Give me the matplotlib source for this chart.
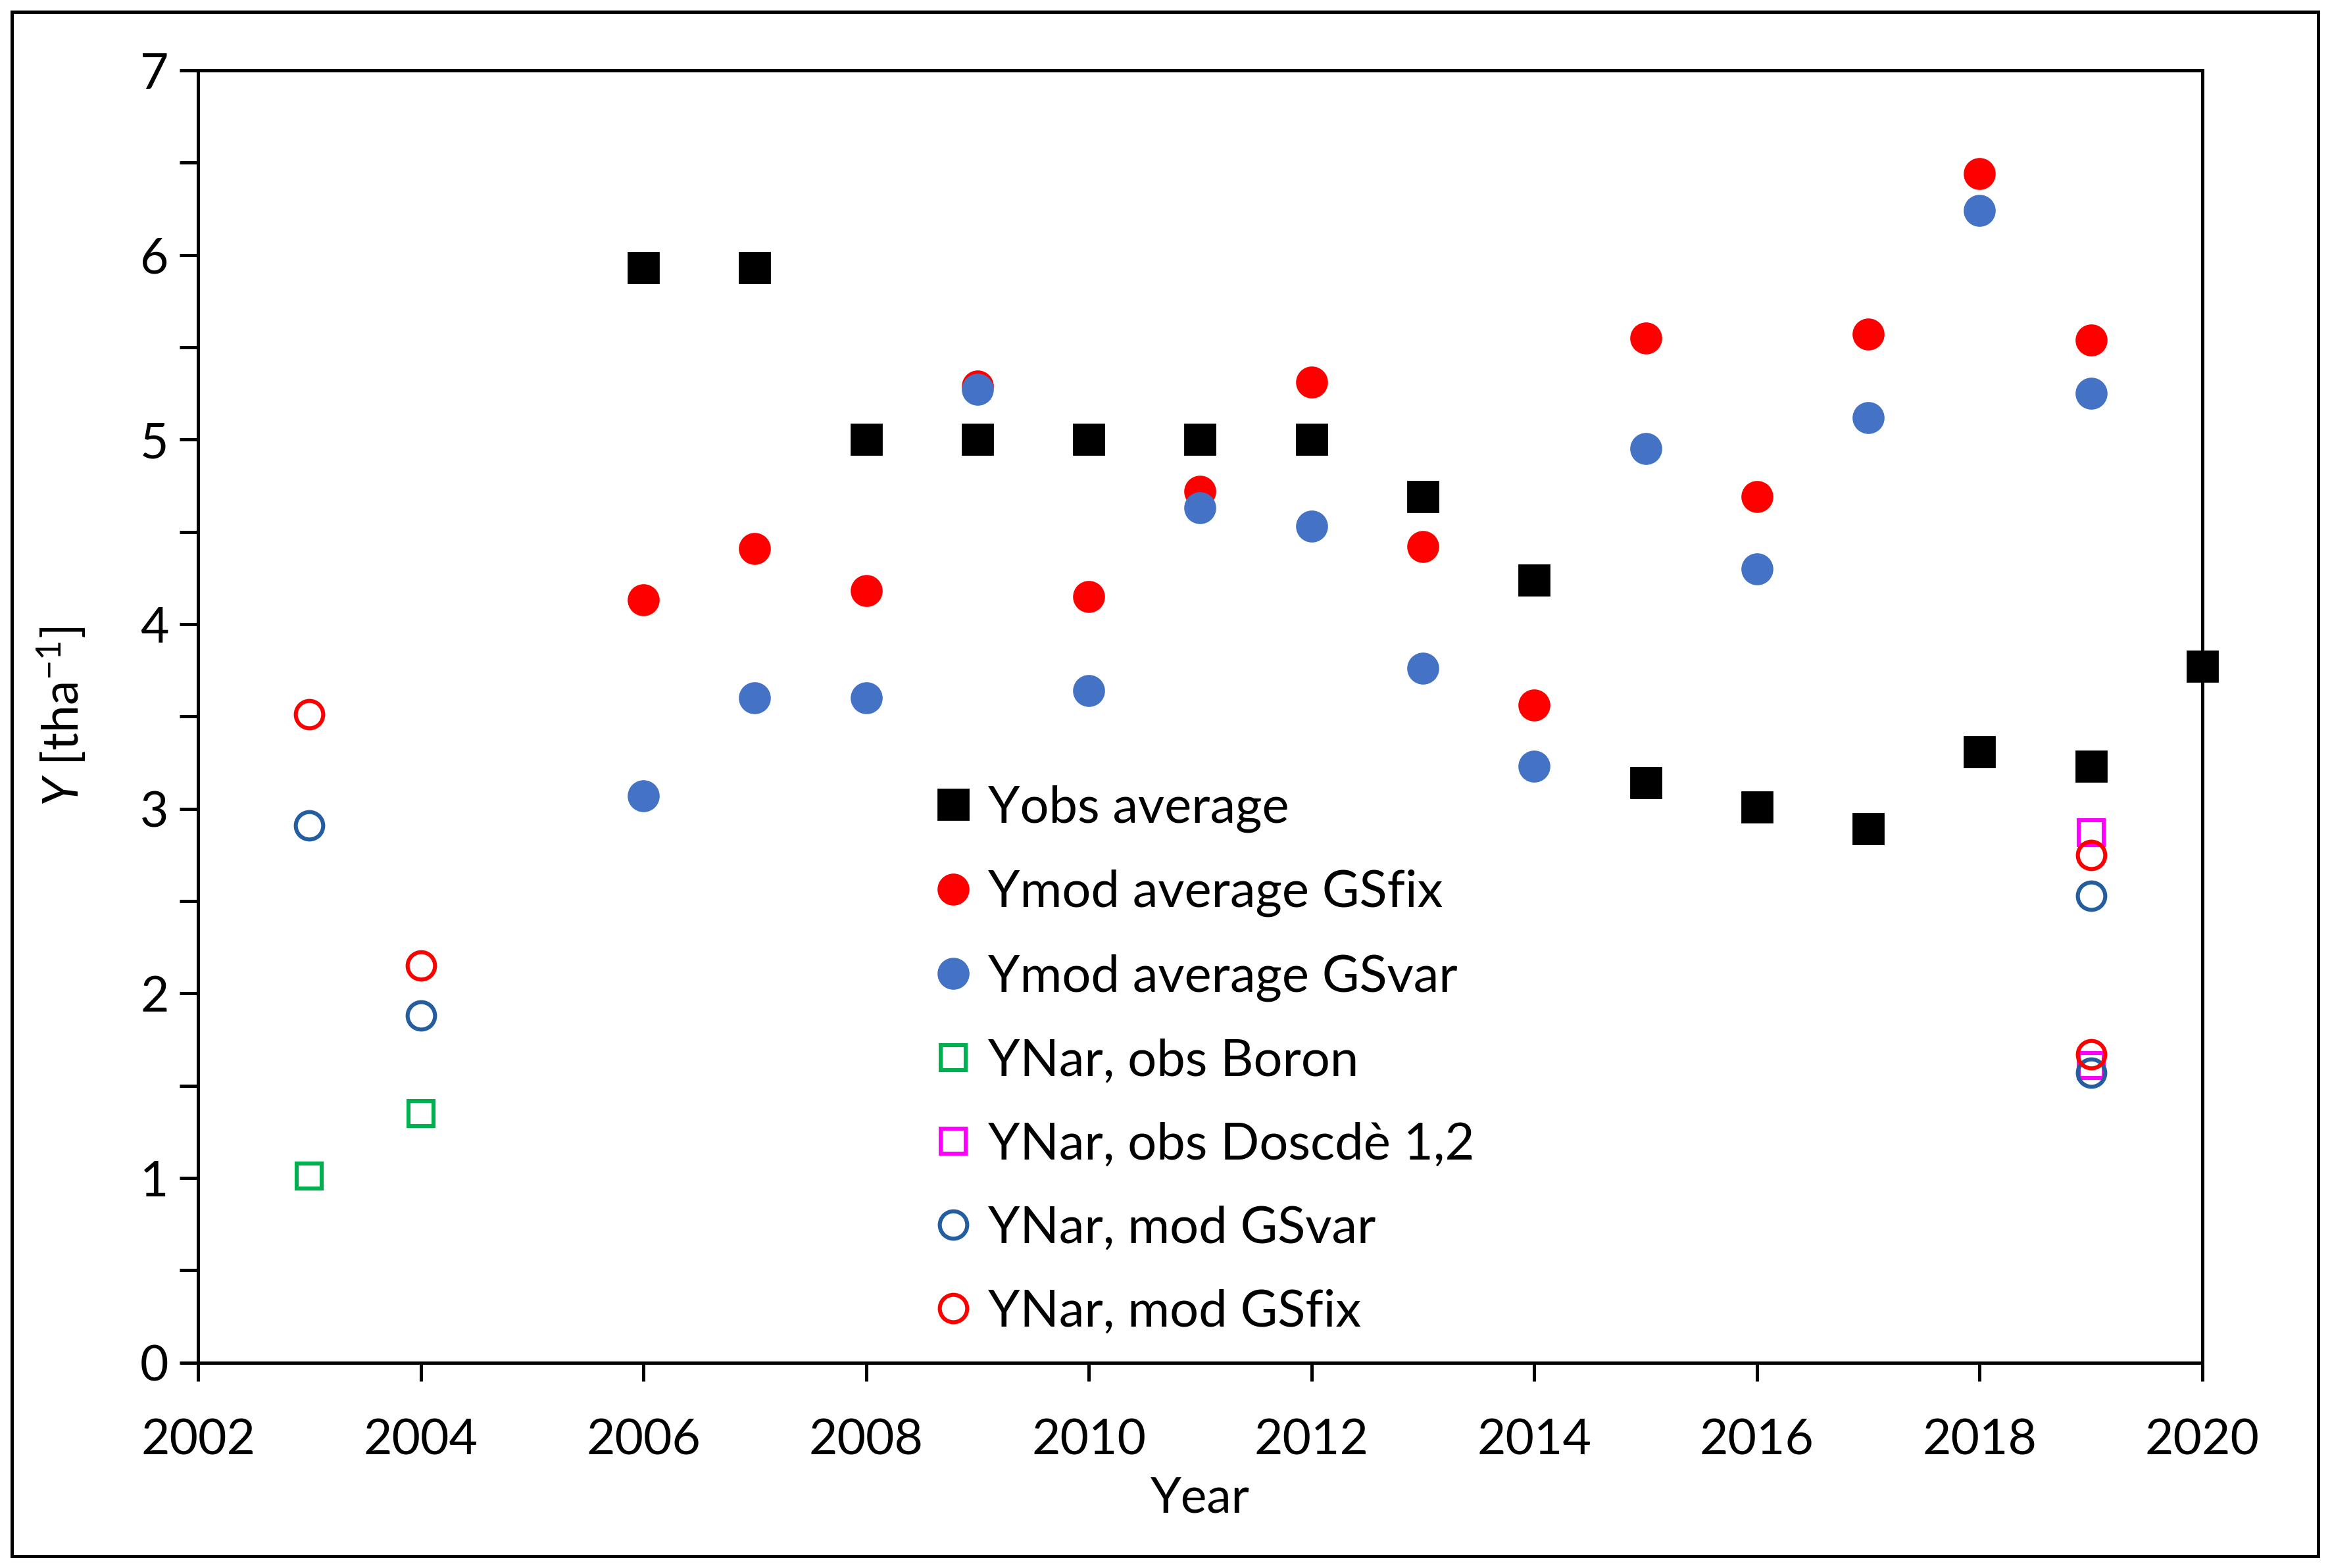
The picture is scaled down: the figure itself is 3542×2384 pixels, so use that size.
import matplotlib
matplotlib.use("Agg")
import matplotlib.pyplot as plt
from matplotlib.patches import Rectangle
from matplotlib.ticker import MultipleLocator

plt.rcParams['font.family'] = ['Lato', 'DejaVu Sans']
plt.rcParams['mathtext.fontset'] = 'custom'
plt.rcParams['mathtext.rm'] = 'Lato'
plt.rcParams['mathtext.it'] = 'Lato:italic'

# values
years_avg = [2006, 2007, 2008, 2009, 2010, 2011, 2012, 2013, 2014, 2015, 2016, 2017, 2018, 2019]
yobs_years = years_avg + [2020]
yobs_avg = [5.93, 5.93, 5.0, 5.0, 5.0, 5.0, 5.0, 4.69, 4.24, 3.14, 3.01, 2.89, 3.31, 3.23, 3.77]
ymod_gsfix = [4.13, 4.41, 4.18, 5.29, 4.15, 4.72, 5.31, 4.42, 3.56, 5.55, 4.69, 5.57, 6.44, 5.54]
ymod_gsvar = [3.07, 3.60, 3.60, 5.27, 3.64, 4.63, 4.53, 3.76, 3.23, 4.95, 4.30, 5.12, 6.24, 5.25]

boron_years = [2003, 2004]
ynar_obs_boron = [1.01, 1.35]
doscde_years = [2019, 2019]
ynar_obs_doscde = [2.87, 1.61]
nar_mod_years = [2003, 2004, 2019, 2019]
ynar_mod_gsvar = [2.91, 1.88, 2.53, 1.57]
ynar_mod_gsfix = [3.51, 2.15, 2.75, 1.67]

fig = plt.figure(figsize=(17.71, 11.92), dpi=200)
ax = fig.add_axes([0.085, 0.131, 0.8602, 0.8242])

ms = 16.5
ax.plot(yobs_years, yobs_avg, 's', color='black', ms=ms, ls='none', label='Yobs average',
        clip_on=False, zorder=3)
ax.plot(years_avg, ymod_gsfix, 'o', color='#FF0000', ms=ms, ls='none', label='Ymod average GSfix')
ax.plot(years_avg, ymod_gsvar, 'o', color='#4472C4', ms=ms, ls='none', label='Ymod average GSvar')
ax.plot(boron_years, ynar_obs_boron, 's', mfc='none', mec='#00B050', mew=2.2, ms=14,
        ls='none', label='YNar, obs Boron')
ax.plot(doscde_years, ynar_obs_doscde, 's', mfc='none', mec='#FF00FF', mew=2.2, ms=14,
        ls='none', label='YNar, obs Doscdè 1,2')
ax.plot(nar_mod_years, ynar_mod_gsvar, 'o', mfc='none', mec='#255E9E', mew=2.2, ms=15,
        ls='none', label='YNar, mod GSvar')
ax.plot(nar_mod_years, ynar_mod_gsfix, 'o', mfc='none', mec='#FF0000', mew=2.2, ms=15,
        ls='none', label='YNar, mod GSfix')

ax.set_xlim(2002, 2020)
ax.set_ylim(0, 7)
ax.xaxis.set_major_locator(MultipleLocator(2))
ax.yaxis.set_major_locator(MultipleLocator(1))
ax.yaxis.set_minor_locator(MultipleLocator(0.5))

for s in ax.spines.values():
    s.set_linewidth(1.8)
ax.tick_params(axis='both', which='both', direction='out', width=1.8, length=10, labelsize=27)
ax.tick_params(axis='y', pad=6)
ax.tick_params(axis='x', pad=20)

ax.set_xlabel('Year', fontsize=27, labelpad=7)
ax.set_ylabel(r'$\mathit{Y}$ [tha$^{\mathrm{-1}}$]', fontsize=27, labelpad=29)

ax.legend(loc='upper left', bbox_to_anchor=(0.364, 0.447), frameon=False, fontsize=28,
          borderpad=0, borderaxespad=0, handlelength=1.0, handletextpad=0.18,
          labelspacing=0.72, markerscale=1.0)

fig.patches.append(Rectangle((0.005, 0.0075), 0.99, 0.985, transform=fig.transFigure,
                             fill=False, edgecolor='black', linewidth=1.8))

fig.savefig('out.png', dpi=200)
